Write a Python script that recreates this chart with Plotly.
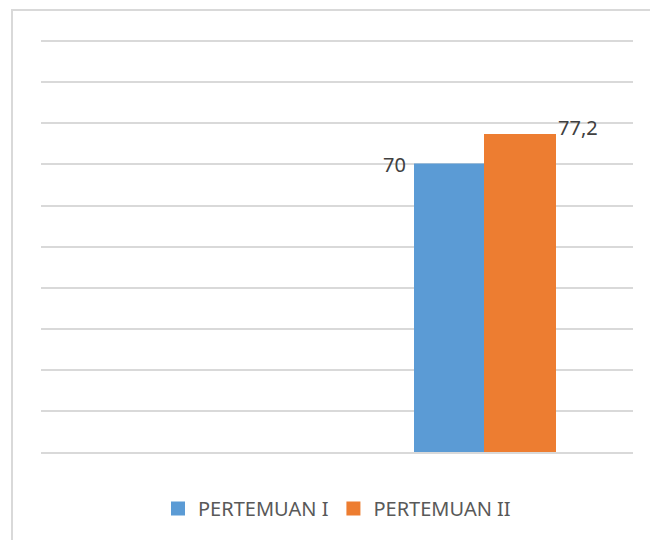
import plotly.graph_objects as go

categories = ["K1", "K2"]
series_names = ["PERTEMUAN I", "PERTEMUAN II"]
pertemuan_1 = [None, 70]
pertemuan_2 = [None, 77.2]
label_1 = [None, "70"]
label_2 = [None, "77,2"]
colors = ["#5B9BD5", "#ED7D31"]

fig = go.Figure()
fig.add_trace(go.Bar(x=categories, y=pertemuan_1, name=series_names[0],
                     marker=dict(color=colors[0], line=dict(width=2, color=colors[0]))))
fig.add_trace(go.Bar(x=categories, y=pertemuan_2, name=series_names[1],
                     marker=dict(color=colors[1], line=dict(width=2, color=colors[1]))))

bar_px = 71
for cat, v, t in zip(categories, pertemuan_1, label_1):
    if v is not None:
        fig.add_annotation(x=cat, y=v, text=t, showarrow=False, xref="x", yref="y",
                           xanchor="right", yanchor="middle", xshift=-bar_px - 6,
                           font=dict(size=20, color="#404040", family="Noto Sans"))
for cat, v, t in zip(categories, pertemuan_2, label_2):
    if v is not None:
        fig.add_annotation(x=cat, y=v, text=t, showarrow=False, xref="x", yref="y",
                           xanchor="left", yanchor="middle", xshift=bar_px, yshift=7,
                           font=dict(size=20, color="#404040", family="Noto Sans"))

fig.add_shape(type="rect", xref="paper", yref="paper",
              x0=-0.049, x1=1.2, y0=-0.4, y1=1.073,
              line=dict(color="#d9d9d9", width=2), fillcolor="rgba(0,0,0,0)")

fig.update_layout(
    width=650, height=540,
    margin=dict(l=41, r=17, t=40, b=84),
    paper_bgcolor="white", plot_bgcolor="white",
    barmode="group", bargap=0.527, bargroupgap=0,
    showlegend=True,
    legend=dict(orientation="h", x=0.5, xanchor="center", y=-0.09, yanchor="top",
                font=dict(size=20, color="#595959", family="Noto Sans"),
                itemsizing="constant", traceorder="normal"),
    xaxis=dict(showticklabels=False, showgrid=False, zeroline=False, showline=True,
               linecolor="#d9d9d9", linewidth=2, ticks=""),
    yaxis=dict(range=[0, 100.3], dtick=10, showticklabels=False, showgrid=True,
               gridcolor="#d9d9d9", gridwidth=1.5, zeroline=False, showline=False, ticks=""),
)

fig.write_html("out.html")
